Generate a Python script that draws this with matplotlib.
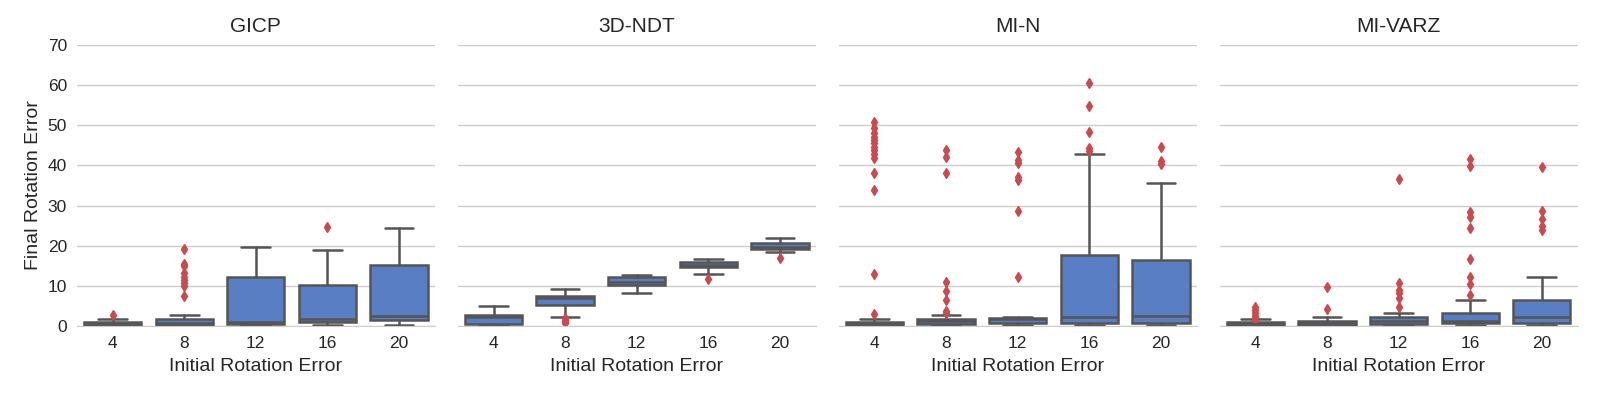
import matplotlib
matplotlib.use('Agg')
import matplotlib.pyplot as plt
import seaborn as sns

# Initial rotation error categories
categories = ['4', '8', '12', '16', '20']
methods = ['GICP', '3D-NDT', 'MI-N', 'MI-VARZ']

# Box statistics (per method, per category)
gicp_q1 = [0.25, 0.25, 0.5, 0.9, 1.5]
gicp_med = [0.5, 0.8, 1.1, 1.7, 2.5]
gicp_q3 = [1.1, 1.7, 12.3, 10.2, 15.2]
gicp_lo = [0.1, 0.1, 0.25, 0.25, 0.25]
gicp_hi = [1.7, 2.8, 19.7, 19.0, 24.4]
gicp_fliers = [[2.7], [19.2, 15.4, 15.0, 13.1, 12.3, 11.5, 10.6, 10.0, 7.5], [], [24.7], []]

ndt_q1 = [0.5, 5.2, 10.1, 14.6, 19.1]
ndt_med = [2.2, 6.9, 11.0, 15.1, 19.8]
ndt_q3 = [2.7, 7.4, 12.1, 16.0, 20.8]
ndt_lo = [0.2, 2.3, 8.1, 13.0, 18.4]
ndt_hi = [5.1, 9.1, 12.7, 16.8, 21.8]
ndt_fliers = [[], [2.0, 1.6, 1.3, 1.0, 0.8], [], [11.8], [17.0]]

min_q1 = [0.25, 0.4, 0.7, 0.7, 0.75]
min_med = [0.6, 1.3, 1.7, 2.3, 2.6]
min_q3 = [1.1, 1.7, 2.1, 17.7, 16.5]
min_lo = [0.1, 0.2, 0.25, 0.25, 0.25]
min_hi = [1.7, 2.8, 2.2, 42.9, 35.6]
min_fliers = [[3.1, 13.0, 33.9, 38.2, 41.8, 42.9, 43.9, 44.7, 45.5, 46.3, 47.2, 48.0, 49.3, 50.9],
              [3.3, 3.8, 6.5, 8.8, 11.0, 38.2, 42.2, 43.9],
              [12.3, 28.7, 36.4, 37.2, 40.5, 41.4, 43.4],
              [43.7, 44.3, 48.3, 54.8, 60.5],
              [40.4, 41.1, 44.7]]

varz_q1 = [0.15, 0.15, 0.4, 0.7, 0.7]
varz_med = [0.5, 0.7, 1.3, 1.3, 2.3]
varz_q3 = [0.9, 1.3, 2.2, 3.3, 6.5]
varz_lo = [0.1, 0.1, 0.2, 0.2, 0.25]
varz_hi = [1.7, 2.3, 3.3, 6.5, 12.3]
varz_fliers = [[1.5, 2.0, 2.6, 3.3, 4.0, 4.8],
               [4.2, 9.6],
               [4.8, 6.9, 8.1, 9.0, 10.8, 36.6],
               [7.8, 10.5, 12.1, 16.8, 24.4, 27.2, 28.5, 39.9, 41.7],
               [23.9, 24.8, 26.7, 28.7, 39.5]]

all_stats = [
    (gicp_q1, gicp_med, gicp_q3, gicp_lo, gicp_hi, gicp_fliers),
    (ndt_q1, ndt_med, ndt_q3, ndt_lo, ndt_hi, ndt_fliers),
    (min_q1, min_med, min_q3, min_lo, min_hi, min_fliers),
    (varz_q1, varz_med, varz_q3, varz_lo, varz_hi, varz_fliers),
]

box_color = '#5A7EC4'
line_color = '#555555'
flier_color = '#C84B50'

sns.set_style('whitegrid')
plt.rcParams['font.family'] = ['Liberation Sans', 'DejaVu Sans']

fig, axes = plt.subplots(1, 4, figsize=(16, 4), dpi=100, sharey=True)
fig.subplots_adjust(left=0.048, right=0.986, bottom=0.185, top=0.8875, wspace=0.064)

for ax, name, (q1, med, q3, lo, hi, fl) in zip(axes, methods, all_stats):
    stats = []
    for i in range(len(categories)):
        stats.append(dict(q1=q1[i], med=med[i], q3=q3[i], whislo=lo[i], whishi=hi[i], fliers=fl[i]))
    ax.bxp(stats, positions=range(len(categories)), widths=0.8, patch_artist=True,
           boxprops=dict(facecolor=box_color, edgecolor=line_color, linewidth=1.8),
           whiskerprops=dict(color=line_color, linewidth=1.8),
           capprops=dict(color=line_color, linewidth=1.8),
           medianprops=dict(color=line_color, linewidth=1.8),
           flierprops=dict(marker='d', markerfacecolor=flier_color, markeredgecolor=flier_color,
                           markersize=5))
    ax.set_xticks(range(len(categories)))
    ax.set_xticklabels(categories)
    ax.set_xlim(-0.5, len(categories) - 0.5)
    ax.set_ylim(0, 70)
    ax.set_yticks(range(0, 71, 10))
    ax.set_title(name, fontsize=15, color='#262626', pad=9)
    ax.set_xlabel('Initial Rotation Error', fontsize=14, color='#262626', labelpad=5)
    ax.tick_params(axis='both', labelsize=12.5, colors='#262626', length=0, pad=7)
    ax.grid(axis='x', visible=False)
    ax.grid(axis='y', color='#cccccc', linewidth=1)
    for s in ['left', 'right', 'top']:
        ax.spines[s].set_visible(False)
    ax.spines['bottom'].set_color('#cccccc')

axes[0].set_ylabel('Final Rotation Error', fontsize=14, color='#262626', labelpad=4)

plt.savefig('out.png')
